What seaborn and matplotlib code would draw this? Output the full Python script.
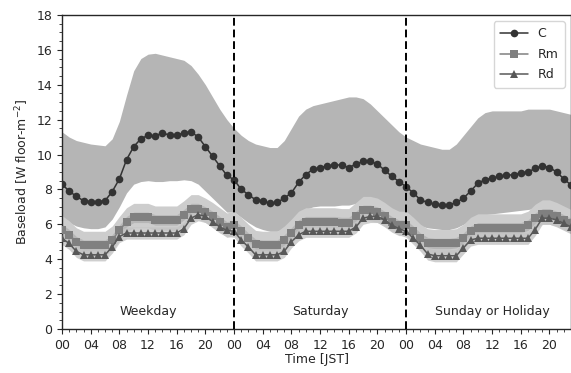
import numpy as np
import pandas as pd
import matplotlib
matplotlib.use("Agg")
import matplotlib.pyplot as plt
import seaborn as sns
from matplotlib.ticker import MultipleLocator

# hourly values, 3 day types x 24 h (weekday, saturday, sunday/holiday)
hours = list(range(72))
day_names = ["Weekday", "Saturday", "Sunday or Holiday"]
tick_labels = ["00", "04", "08", "12", "16", "20"] * 3

c_mean = [8.3, 7.9, 7.6, 7.35, 7.3, 7.3, 7.35, 7.87, 8.6, 9.7, 10.45, 10.9,
          11.1, 11.05, 11.25, 11.1, 11.1, 11.25, 11.3, 11.0, 10.45, 9.9, 9.35, 8.8,
          8.55, 8.0, 7.7, 7.4, 7.35, 7.2, 7.25, 7.5, 7.8, 8.4, 8.85, 9.15,
          9.25, 9.35, 9.4, 9.4, 9.25, 9.45, 9.6, 9.6, 9.45, 9.1, 8.75, 8.45,
          8.15, 7.8, 7.4, 7.25, 7.15, 7.1, 7.1, 7.25, 7.5, 7.9, 8.35, 8.55,
          8.65, 8.75, 8.8, 8.85, 8.95, 9.0, 9.2, 9.35, 9.25, 9.0, 8.6, 8.25]
c_upper = [11.3, 11.0, 10.8, 10.7, 10.6, 10.55, 10.5, 10.9, 11.9, 13.4, 14.8, 15.5,
           15.75, 15.8, 15.7, 15.6, 15.5, 15.4, 15.1, 14.6, 14.0, 13.3, 12.6, 12.0,
           11.5, 11.1, 10.8, 10.6, 10.5, 10.4, 10.4, 10.8, 11.5, 12.2, 12.6, 12.8,
           12.9, 13.0, 13.1, 13.2, 13.3, 13.3, 13.2, 12.9, 12.5, 12.1, 11.7, 11.3,
           11.0, 10.8, 10.6, 10.5, 10.4, 10.3, 10.3, 10.6, 11.1, 11.6, 12.1, 12.4,
           12.5, 12.5, 12.5, 12.5, 12.5, 12.6, 12.6, 12.6, 12.6, 12.5, 12.4, 12.3]
c_lower = [6.3, 6.1, 5.9, 5.8, 5.75, 5.75, 5.85, 6.3, 7.0, 7.8, 8.3, 8.45,
           8.5, 8.45, 8.45, 8.5, 8.5, 8.55, 8.5, 8.3, 7.9, 7.5, 7.1, 6.7,
           6.7, 6.4, 6.1, 5.85, 5.7, 5.6, 5.6, 5.75, 6.1, 6.5, 6.85, 7.0,
           7.05, 7.05, 7.05, 7.1, 7.1, 7.2, 7.35, 7.4, 7.3, 7.0, 6.7, 6.4,
           6.3, 6.1, 5.9, 5.8, 5.75, 5.7, 5.7, 5.8, 6.0, 6.2, 6.4, 6.55,
           6.6, 6.65, 6.7, 6.75, 6.8, 6.85, 6.9, 6.9, 6.8, 6.6, 6.4, 6.2]
rm_mean = [5.7, 5.4, 5.0, 4.8, 4.8, 4.8, 4.8, 5.1, 5.65, 6.15, 6.4, 6.4,
           6.4, 6.25, 6.25, 6.25, 6.25, 6.55, 6.9, 6.9, 6.7, 6.45, 6.15, 5.85,
           5.95, 5.6, 5.2, 4.85, 4.8, 4.8, 4.8, 5.1, 5.5, 5.95, 6.15, 6.15,
           6.15, 6.15, 6.15, 6.1, 6.1, 6.45, 6.8, 6.8, 6.7, 6.45, 6.15, 5.95,
           5.95, 5.6, 5.2, 4.95, 4.9, 4.9, 4.9, 4.95, 5.2, 5.6, 5.8, 5.8,
           5.8, 5.8, 5.8, 5.8, 5.8, 5.95, 6.35, 6.6, 6.6, 6.45, 6.25, 6.05]
rd_mean = [5.2, 4.9, 4.45, 4.25, 4.25, 4.25, 4.25, 4.7, 5.3, 5.5, 5.5, 5.5,
           5.5, 5.5, 5.5, 5.5, 5.5, 5.75, 6.35, 6.55, 6.45, 6.15, 5.85, 5.65,
           5.6, 5.1, 4.7, 4.25, 4.25, 4.25, 4.25, 4.45, 5.0, 5.4, 5.6, 5.6,
           5.6, 5.6, 5.6, 5.6, 5.6, 5.85, 6.35, 6.45, 6.45, 6.25, 5.95, 5.75,
           5.6, 5.2, 4.8, 4.3, 4.2, 4.2, 4.2, 4.2, 4.65, 5.1, 5.2, 5.2,
           5.2, 5.2, 5.2, 5.2, 5.2, 5.2, 5.7, 6.35, 6.35, 6.25, 6.05, 5.85]
rm_up, rm_down = 0.8, 0.6
rd_up, rd_down = 0.35, 0.35

df = pd.DataFrame({
    "hour": hours * 3,
    "value": c_mean + rm_mean + rd_mean,
    "series": ["C"] * 72 + ["Rm"] * 72 + ["Rd"] * 72,
})

sns.set_style("ticks")
plt.rcParams["font.family"] = ["DejaVu Sans"]

fig = plt.figure(figsize=(5.71, 3.73), dpi=100)
ax = fig.add_axes([0.1086, 0.118, 0.8914, 0.842])

x = np.array(hours)
rm = np.array(rm_mean)
rd = np.array(rd_mean)
ax.fill_between(x, c_lower, c_upper, color="#b5b5b5", lw=0, zorder=1)
ax.fill_between(x, rm - rm_down, rm + rm_up, color="#cdcdcd", lw=0, zorder=1.2)
ax.fill_between(x, rm - 0.3, rm + 0.3, color="#a8a8a8", alpha=0.6, lw=0, zorder=1.25)
ax.fill_between(x, rd - rd_down, rd + rd_up, color="#c4c4c4", alpha=0.8, lw=0, zorder=1.3)

sns.lineplot(data=df, x="hour", y="value", hue="series", style="series",
             palette={"C": "#333333", "Rm": "#808080", "Rd": "#585858"},
             markers={"C": "o", "Rm": "s", "Rd": "^"}, dashes=False,
             markersize=5.5, markeredgewidth=0, linewidth=1.1, ax=ax, zorder=3)

for d in [24, 48]:
    ax.axvline(d, color="black", ls=(0, (4, 2)), lw=1.4, zorder=4)

for i, name in enumerate(day_names):
    ax.text(12 + 24 * i, 1.0, name, ha="center", va="center", fontsize=9)

ax.set_xlim(0, 71)
ax.set_ylim(0, 18)
ax.set_xticks(range(0, 72, 4))
ax.set_xticklabels(tick_labels)
ax.xaxis.set_minor_locator(MultipleLocator(1))
ax.yaxis.set_minor_locator(MultipleLocator(0.5))
ax.set_yticks(range(0, 19, 2))
ax.tick_params(axis="both", which="major", labelsize=9, length=3.5)
ax.tick_params(axis="both", which="minor", length=2)
ax.set_xlabel("Time [JST]", fontsize=9, labelpad=1)
ax.set_ylabel("Baseload [W floor-m$^{-2}$]", fontsize=9)
for s in ax.spines.values():
    s.set_visible(True)
    s.set_linewidth(1.0)

ax.legend(title=None, loc="upper right", fontsize=9, handlelength=2.2,
          borderpad=0.5, labelspacing=0.6)

fig.savefig("out.png", dpi=100)
